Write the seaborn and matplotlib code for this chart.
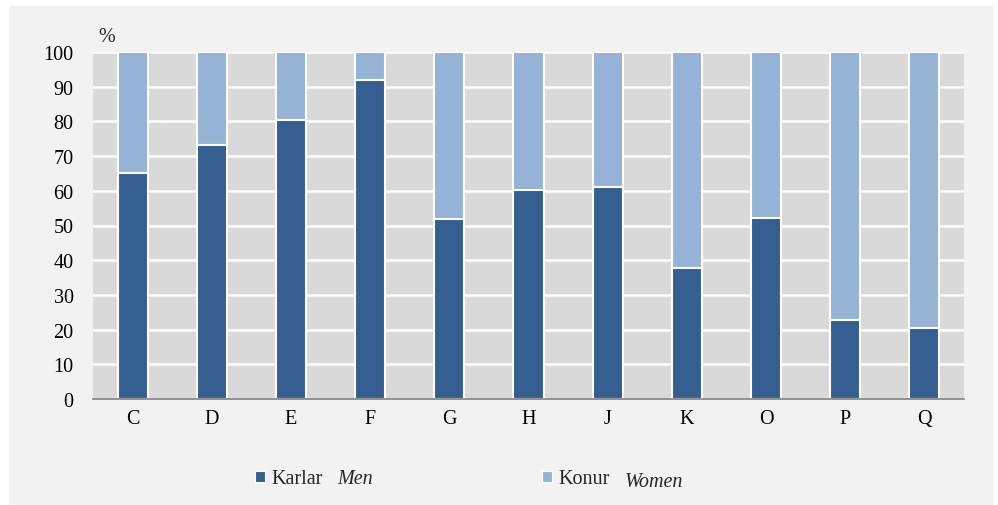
import matplotlib
matplotlib.use("Agg")
import matplotlib.pyplot as plt
from matplotlib.patches import Patch, Rectangle
import seaborn as sns
import pandas as pd

categories = ["C", "D", "E", "F", "G", "H", "J", "K", "O", "P", "Q"]
men = [65.0, 73.3, 80.3, 92.0, 52.0, 60.3, 61.0, 37.8, 52.3, 22.7, 20.5]
women = [100 - m for m in men]
yticks = [0, 10, 20, 30, 40, 50, 60, 70, 80, 90, 100]

dark = "#355f91"
light = "#95b3d7"
panel = "#f2f2f2"
plot_bg = "#d9d9d9"

sns.set_theme(style="white")
plt.rcParams["font.family"] = ["Liberation Serif", "DejaVu Serif"]

df = pd.DataFrame({"cat": categories, "men": men, "women": women})
df["total"] = df["men"] + df["women"]

fig = plt.figure(figsize=(9.98, 5.06), dpi=100, facecolor="white")
fig.patches.append(Rectangle((9 / 998, 0), (993 - 9) / 998, 1 - 7 / 506,
                             transform=fig.transFigure, facecolor=panel,
                             edgecolor="none", zorder=-5))

ax = fig.add_axes([93 / 998, 1 - 400 / 506, (964 - 93) / 998, (400 - 53) / 506])
ax.set_facecolor(plot_bg)

sns.barplot(data=df, x="cat", y="total", color=light, width=0.38,
            edgecolor="white", linewidth=1.5, saturation=1, ax=ax, zorder=3)
sns.barplot(data=df, x="cat", y="men", color=dark, width=0.38,
            edgecolor="white", linewidth=1.5, saturation=1, ax=ax, zorder=4)

ax.set_ylim(0, 100)
ax.set_xlim(-0.5, len(categories) - 0.5)
ax.set_yticks(yticks)
ax.yaxis.grid(True, color="white", linewidth=1.8, zorder=1)
ax.set_axisbelow(True)
ax.set_xlabel("")
ax.set_ylabel("")
for s in ["top", "right", "left"]:
    ax.spines[s].set_visible(False)
ax.spines["bottom"].set_color("#808080")
ax.spines["bottom"].set_linewidth(1.2)
ax.spines["bottom"].set_zorder(5)
ax.tick_params(axis="y", length=0, pad=14, labelsize=14.5, labelcolor="black")
ax.tick_params(axis="x", length=0, pad=7, labelsize=14.5, labelcolor="black")

fig.text(98 / 998, 1 - 37 / 506, "%", fontsize=14.5, ha="left", va="center")

handles = [Patch(facecolor=dark, edgecolor="white", linewidth=0.8),
           Patch(facecolor=light, edgecolor="white", linewidth=0.8)]
leg = fig.legend(handles, ["Karlar", "Konur"], loc="center left",
                 bbox_to_anchor=(255 / 998, 1 - 480 / 506), ncol=2,
                 frameon=False, fontsize=14.5, handlelength=0.5,
                 handleheight=0.5, handletextpad=0.3, columnspacing=10.9,
                 borderaxespad=0, borderpad=0)

fig.canvas.draw()
renderer = fig.canvas.get_renderer()
inv = fig.transFigure.inverted()
italic = ["Men", "Women"]
offsets = [0, -3]
for t, lab, dy in zip(leg.get_texts(), italic, offsets):
    bb = t.get_window_extent(renderer)
    x0, _ = inv.transform((bb.x1 + 15, 0))
    yc = (bb.y0 + bb.y1) / 2 + dy
    _, y0 = inv.transform((0, yc))
    fig.text(x0, y0, lab, fontsize=14.5, style="italic", ha="left", va="center")

fig.savefig("out.png", dpi=100, facecolor="white")
